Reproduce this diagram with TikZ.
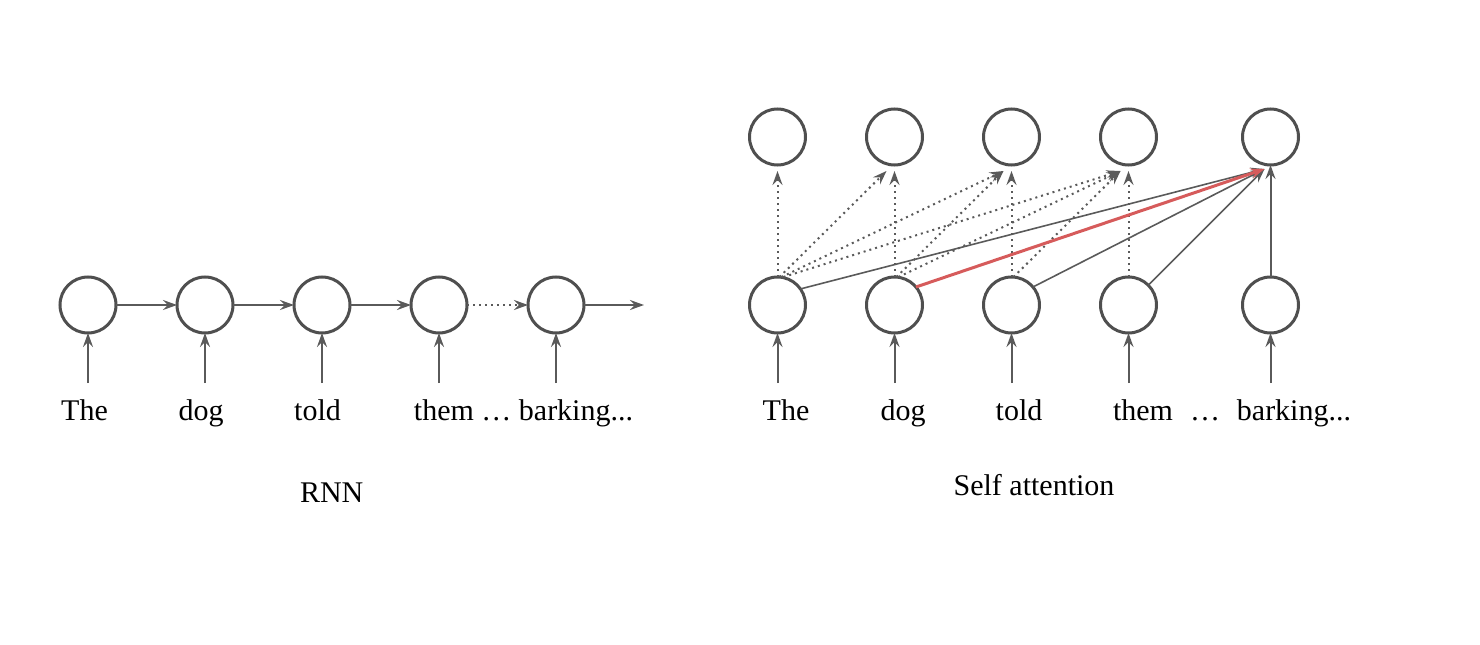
\documentclass[tikz,border=0pt]{standalone}
\usepackage{fontspec}
\setmainfont{Liberation Serif}
\usetikzlibrary{positioning,arrows.meta}

\definecolor{ringgray}{HTML}{4F4F4F}
\definecolor{wiregray}{HTML}{5A5A5A}
\definecolor{focusred}{HTML}{D65B5B}

\tikzset{
  unit/.style={circle, draw=ringgray, line width=1.5pt, minimum size=28pt, inner sep=0pt, outer sep=0pt},
  word/.style={anchor=base, inner sep=0pt, font=\fontsize{15pt}{18pt}\selectfont},
  wire/.style={draw=wiregray, line width=1pt, -{Stealth[length=7pt,width=5pt,inset=2.5pt]}},
  attn/.style={wire, dotted},
  score/.style={wire, line width=0.8pt},
}

\begin{document}
\begin{tikzpicture}[x=0.5pt, y=0.5pt, node distance=56pt and 30.5pt]
  \useasboundingbox (0,0) rectangle (1480,644);

  % Nodes for RNN hidden states
  \node[unit]              (r1) at (88,339) {};
  \node[unit, right=of r1] (r2) {};
  \node[unit, right=of r2] (r3) {};
  \node[unit, right=of r3] (r4) {};
  \node[unit, right=of r4] (r5) {};
  \coordinate[right=30pt of r5] (rout);

  % RNN inputs
  \coordinate[below=25pt of r1] (ri1);
  \coordinate[below=25pt of r2] (ri2);
  \coordinate[below=25pt of r3] (ri3);
  \coordinate[below=25pt of r4] (ri4);
  \coordinate[below=25pt of r5] (ri5);
  \node[word] (rw1) at (84.5,224) {The};
  \node[word] (rw2) at (201,224) {dog};
  \node[word] (rw3) at (317.5,224) {told};
  \node[word] (rw4) at (523.5,224) {them … barking...};
  \node[word] (rnn) at (331.7,141.3) {RNN};

  % Nodes for self attention
  \node[unit]              (h1) at (777.5,339) {};
  \node[unit, right=of h1] (h2) {};
  \node[unit, right=of h2] (h3) {};
  \node[unit, right=of h3] (h4) {};
  \node[unit, right=43pt of h4] (h5) {};
  \node[unit, above=of h1] (a1) {};
  \node[unit, above=of h2] (a2) {};
  \node[unit, above=of h3] (a3) {};
  \node[unit, above=of h4] (a4) {};
  \node[unit, above=of h5] (a5) {};

  % Self attention inputs
  \coordinate[below=25pt of h1] (hi1);
  \coordinate[below=25pt of h2] (hi2);
  \coordinate[below=25pt of h3] (hi3);
  \coordinate[below=25pt of h4] (hi4);
  \coordinate[below=25pt of h5] (hi5);
  \node[word] (hw1) at (786,224) {The};
  \node[word] (hw2) at (903,224) {dog};
  \node[word] (hw3) at (1019,224) {told};
  \node[word] (hw4) at (1143,224) {them};
  \node[word] (hdots) at (1205,224) {…};
  \node[word] (hw5) at (1294,224) {barking...};
  \node[word] (selfattn) at (1034,149) {Self attention};

  % Recurrent edges
  \draw[wire] (r1) -- (r2);
  \draw[wire] (r2) -- (r3);
  \draw[wire] (r3) -- (r4);
  \draw[attn] (r4) -- (r5);
  \draw[wire] (r5) -- (rout);

  % Input edges
  \draw[wire] (ri1) -- (r1);
  \draw[wire] (ri2) -- (r2);
  \draw[wire] (ri3) -- (r3);
  \draw[wire] (ri4) -- (r4);
  \draw[wire] (ri5) -- (r5);
  \draw[wire] (hi1) -- (h1);
  \draw[wire] (hi2) -- (h2);
  \draw[wire] (hi3) -- (h3);
  \draw[wire] (hi4) -- (h4);
  \draw[wire] (hi5) -- (h5);

  % Attention edges
  \draw[attn] (h1.north) -- ([yshift=-3pt]a1.south);
  \draw[attn] ([xshift=1pt]h1.north) -- ([xshift=-4pt,yshift=-3pt]a2.south);
  \draw[attn] ([xshift=2pt]h1.north) -- ([xshift=-4pt,yshift=-3pt]a3.south);
  \draw[attn] ([xshift=3pt]h1.north) -- ([xshift=-4pt,yshift=-3pt]a4.south);
  \draw[attn] (h2.north) -- ([yshift=-3pt]a2.south);
  \draw[attn] ([xshift=1pt]h2.north) -- ([xshift=-4pt,yshift=-3pt]a3.south);
  \draw[attn] ([xshift=2pt]h2.north) -- ([xshift=-4pt,yshift=-3pt]a4.south);
  \draw[attn] (h3.north) -- ([yshift=-3pt]a3.south);
  \draw[attn] ([xshift=1pt]h3.north) -- ([xshift=-4pt,yshift=-3pt]a4.south);
  \draw[attn] (h4.north) -- ([yshift=-3pt]a4.south);

  % Edges into the last output
  \draw[score] (h1.35) -- ([xshift=-3pt,yshift=-2pt]a5.south);
  \draw[score] (h3.40) -- ([xshift=-3pt,yshift=-2pt]a5.south);
  \draw[score] (h4.45) -- ([xshift=-3pt,yshift=-2pt]a5.south);
  \draw[wire] (h5) -- (a5);
  \draw[score, draw=focusred, line width=1.5pt] (h2.40) -- ([xshift=-3pt,yshift=-2pt]a5.south);

\end{tikzpicture}
\end{document}
